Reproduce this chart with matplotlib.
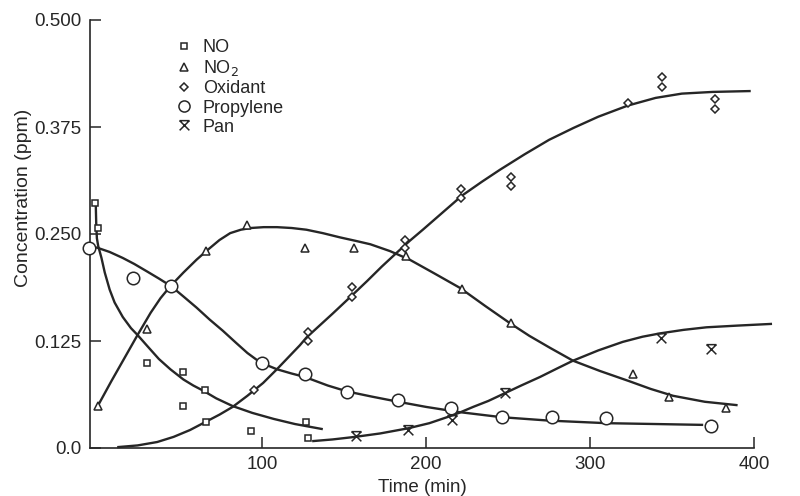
import matplotlib
matplotlib.use("Agg")
import matplotlib.pyplot as plt
from matplotlib.path import Path
from matplotlib.lines import Line2D

plt.rcParams['font.family'] = ['Liberation Sans', 'DejaVu Sans']

# measured points (time in min, concentration in ppm)
no_t = [-1.8, 0, 30, 52, 65, 52, 66, 93, 127, 128]
no_c = [0.286, 0.257, 0.099, 0.089, 0.068, 0.049, 0.030, 0.020, 0.030, 0.012]

no2_t = [0, 30, 66, 91, 126, 156, 188, 222, 252, 326, 348, 383]
no2_c = [0.049, 0.139, 0.230, 0.260, 0.234, 0.234, 0.224, 0.186, 0.146, 0.086, 0.059, 0.047]

ox_t = [95, 128, 128, 155, 155, 187, 187, 221, 221, 252, 252, 323, 344, 344, 376, 376]
ox_c = [0.068, 0.136, 0.125, 0.188, 0.176, 0.243, 0.234, 0.303, 0.292, 0.317, 0.306,
        0.403, 0.433, 0.422, 0.408, 0.396]

prop_t = [-5.5, 21, 44.5, 100, 126, 152, 183, 215, 246, 277, 310, 374]
prop_c = [0.234, 0.199, 0.189, 0.099, 0.087, 0.066, 0.056, 0.047, 0.036, 0.036, 0.035, 0.026]

pan_t = [157, 189, 216, 248, 343, 374]
pan_c = [0.014, 0.021, 0.033, 0.064, 0.128, 0.116]

# hand drawn fit curves
no_fit_t = [-1.5, -1.2, -0.8, 0, 2, 4, 7, 10, 15, 20, 24, 30, 37, 44, 52, 58, 64, 72,
            82, 94, 107, 120, 137]
no_fit_c = [0.286, 0.262, 0.245, 0.236, 0.222, 0.205, 0.185, 0.170, 0.153, 0.140, 0.132,
            0.119, 0.104, 0.092, 0.080, 0.073, 0.067, 0.058, 0.049, 0.041, 0.034, 0.028,
            0.022]

no2_fit_t = [0, 8, 16, 24, 32, 38, 44, 52, 60, 66.5, 74, 80.5, 87, 93, 101, 109, 118, 127,
             137, 147.6, 157, 166, 178, 190, 205, 220.7, 236, 251, 263, 275.6, 289.6, 306,
             324, 337, 350.6, 370, 390]
no2_fit_c = [0.050, 0.078, 0.105, 0.132, 0.158, 0.175, 0.189, 0.205, 0.220, 0.231, 0.243,
             0.251, 0.255, 0.257, 0.258, 0.258, 0.257, 0.255, 0.251, 0.246, 0.242, 0.238,
             0.230, 0.220, 0.204, 0.187, 0.166, 0.146, 0.131, 0.117, 0.102, 0.090, 0.078,
             0.069, 0.061, 0.054, 0.050]

ox_fit_t = [11.6, 24, 36, 46, 56, 66, 74, 82, 91, 100.6, 109, 117, 123, 127, 135, 143, 153,
            164, 173, 182, 190, 198, 210, 222, 234, 245, 260, 275, 290, 305, 323, 340, 356,
            375, 398]
ox_fit_c = [0.001, 0.003, 0.007, 0.013, 0.021, 0.031, 0.039, 0.048, 0.061, 0.076, 0.092,
            0.108, 0.120, 0.129, 0.143, 0.157, 0.175, 0.195, 0.212, 0.228, 0.242, 0.255,
            0.275, 0.295, 0.311, 0.325, 0.343, 0.360, 0.374, 0.387, 0.400, 0.409, 0.414,
            0.416, 0.417]

prop_fit_t = [-4.9, -0.6, 7, 15, 22, 30, 37, 44.5, 52, 60, 68, 76, 84, 91, 98.8, 109, 118,
              126, 140, 152, 167, 183, 200, 220, 246, 275, 310, 340, 369]
prop_fit_c = [0.235, 0.234, 0.229, 0.222, 0.215, 0.206, 0.198, 0.189, 0.177, 0.164, 0.150,
              0.137, 0.123, 0.111, 0.100, 0.092, 0.087, 0.083, 0.073, 0.066, 0.060, 0.054,
              0.048, 0.042, 0.036, 0.032, 0.029, 0.028, 0.027]

pan_fit_t = [130.5, 143, 156.7, 172, 189, 202, 212.8, 220, 228.7, 238, 248, 258, 269.5,
             280, 289.6, 305, 320, 332, 343, 357, 371, 390, 411]
pan_fit_c = [0.008, 0.010, 0.013, 0.017, 0.023, 0.029, 0.036, 0.041, 0.048, 0.055, 0.064,
             0.073, 0.083, 0.093, 0.102, 0.114, 0.124, 0.130, 0.134, 0.138, 0.141, 0.143,
             0.145]

ink = "#262626"

# pan marker: an X with a bar on top
pan_marker = Path([(-1, 1), (1, 1), (-1, 1), (1, -1), (1, 1), (-1, -1)],
                  [Path.MOVETO, Path.LINETO, Path.MOVETO, Path.LINETO, Path.MOVETO, Path.LINETO])

fig = plt.figure(figsize=(8, 4.96), dpi=100)
ax = fig.add_axes([90/800, 48/496, 664/800, 428/496])

for t, c in [(no_fit_t, no_fit_c), (no2_fit_t, no2_fit_c), (ox_fit_t, ox_fit_c),
             (prop_fit_t, prop_fit_c), (pan_fit_t, pan_fit_c)]:
    ax.plot(t, c, color=ink, lw=1.7, clip_on=False, solid_capstyle="butt",
            solid_joinstyle="round")

mk = dict(linestyle="none", markerfacecolor="white", markeredgecolor=ink,
          markeredgewidth=1.1, clip_on=False, zorder=3)
ax.plot(no_t, no_c, marker="s", markersize=5, **mk)
ax.plot(no2_t, no2_c, marker="^", markersize=5.5, **mk)
ax.plot(ox_t, ox_c, marker="D", markersize=4.3, **mk)
ax.plot(prop_t, prop_c, marker="o", markersize=9, **mk)
ax.plot(pan_t, pan_c, marker=pan_marker, markersize=7, **mk)

ax.set_xlim(-5, 400)
ax.set_ylim(0, 0.5)
ax.set_xticks([100, 200, 300, 400])
ax.set_xticklabels(["100", "200", "300", "400"])
ax.set_yticks([0, 0.125, 0.25, 0.375, 0.5])
ax.set_yticklabels(["0.0", "0.125", "0.250", "0.375", "0.500"])
ax.tick_params(direction="in", length=8, width=1.1, color=ink, labelcolor=ink,
               labelsize=13.5, pad=6)
for s in ["top", "right"]:
    ax.spines[s].set_visible(False)
for s in ["left", "bottom"]:
    ax.spines[s].set_color(ink)
    ax.spines[s].set_linewidth(1.2)

ax.set_xlabel("Time (min)", fontsize=13.5, color=ink, labelpad=4)
ax.set_ylabel("Concentration (ppm)", fontsize=14, color=ink)
ax.yaxis.set_label_coords(-0.088, 0.584)

handles = [
    Line2D([], [], marker="s", markersize=5, **mk),
    Line2D([], [], marker="^", markersize=5.5, **mk),
    Line2D([], [], marker="D", markersize=4.3, **mk),
    Line2D([], [], marker="o", markersize=8, **mk),
    Line2D([], [], marker=pan_marker, markersize=7, **mk),
]
labels = ["NO", "NO$_2$", "Oxidant", "Propylene", "Pan"]
leg = ax.legend(handles, labels, loc="upper left", bbox_to_anchor=(0.11, 0.985),
                frameon=False, fontsize=13, handlelength=0.9, handletextpad=0.6,
                labelspacing=0.12, borderaxespad=0.3)
for txt in leg.get_texts():
    txt.set_color(ink)

fig.savefig("out.png", dpi=100, facecolor="white")
